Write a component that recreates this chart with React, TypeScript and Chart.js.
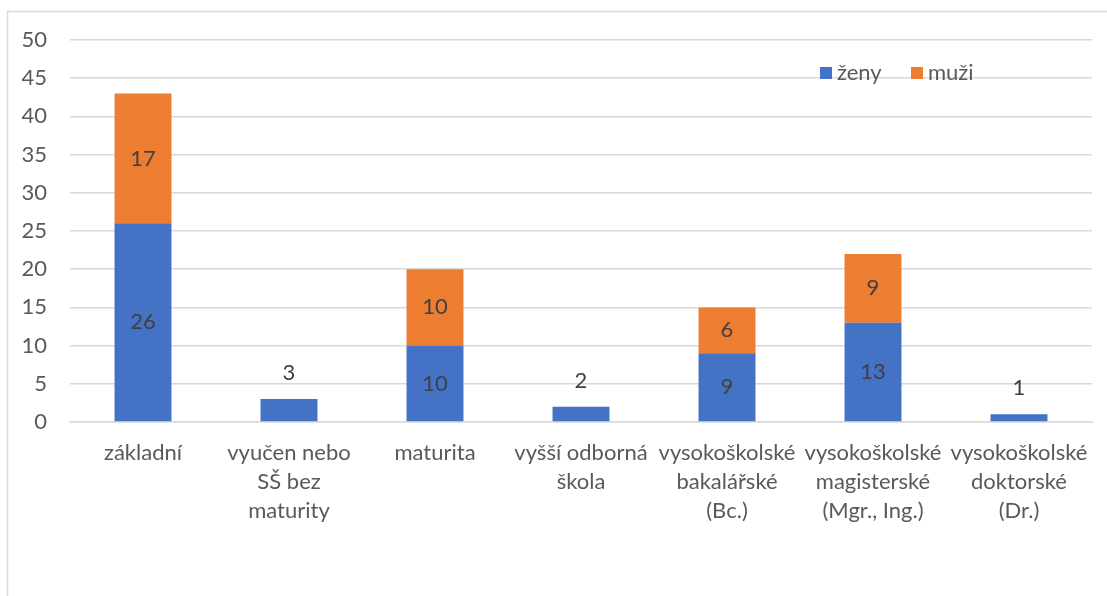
import React, { useEffect, useRef } from "react";
import { Chart, registerables } from "chart.js";

Chart.register(...registerables);

const categories: string[][] = [
  ["základní"],
  ["vyučen nebo", "SŠ bez", "maturity"],
  ["maturita"],
  ["vyšší odborná", "škola"],
  ["vysokoškolské", "bakalářské", "(Bc.)"],
  ["vysokoškolské", "magisterské", "(Mgr., Ing.)"],
  ["vysokoškolské", "doktorské", "(Dr.)"],
];
const zeny = [26, 3, 10, 2, 9, 13, 1];
const muzi = [17, 0, 10, 0, 6, 9, 0];
const seriesNames = ["ženy", "muži"];
const colors = ["#4472C4", "#ED7D31"];

const FONT = "Lato, 'Open Sans', sans-serif";
const TEXT = "#595959";

const decorPlugin = {
  id: "decor",
  beforeDraw(chart: any) {
    const ctx = chart.ctx;
    ctx.save();
    ctx.strokeStyle = "#d9d9d9";
    ctx.lineWidth = 1.5;
    ctx.beginPath();
    ctx.moveTo(7.5, chart.height + 5);
    ctx.lineTo(7.5, 11.5);
    ctx.lineTo(chart.width + 5, 11.5);
    ctx.stroke();
    ctx.restore();
  },
  afterDatasetsDraw(chart: any) {
    const ctx = chart.ctx;
    ctx.save();
    ctx.font = `22px ${FONT}`;
    ctx.fillStyle = "#404040";
    ctx.textAlign = "center";
    ctx.textBaseline = "middle";
    chart.data.datasets.forEach((ds: any, di: number) => {
      const meta = chart.getDatasetMeta(di);
      meta.data.forEach((el: any, i: number) => {
        const v = ds.data[i];
        if (!v) return;
        const h = Math.abs(el.base - el.y);
        const y = h < 30 ? el.y - 26 : (el.y + el.base) / 2;
        ctx.fillText(String(v), el.x, y);
      });
    });
    // legend
    const ly = 73;
    const items = [
      { x: 820, label: seriesNames[0], color: colors[0] },
      { x: 911, label: seriesNames[1], color: colors[1] },
    ];
    ctx.textAlign = "left";
    items.forEach((it) => {
      ctx.fillStyle = it.color;
      ctx.fillRect(it.x, ly - 6, 12, 12);
      ctx.fillStyle = TEXT;
      ctx.fillText(it.label, it.x + 17, ly);
    });
    ctx.restore();
  },
};

export default function App() {
  const ref = useRef<HTMLCanvasElement>(null);
  useEffect(() => {
    document.body.style.margin = "0";
    const chart = new Chart(ref.current!, {
      type: "bar",
      data: {
        labels: categories as any,
        datasets: [
          { label: seriesNames[0], data: zeny, backgroundColor: colors[0], barPercentage: 0.39, categoryPercentage: 1 },
          { label: seriesNames[1], data: muzi, backgroundColor: colors[1], barPercentage: 0.39, categoryPercentage: 1 },
        ],
      },
      options: {
        responsive: false,
        animation: false,
        layout: { padding: { top: 40, right: 15, left: 0, bottom: 0 } },
        plugins: { legend: { display: false }, tooltip: { enabled: false } },
        scales: {
          x: {
            stacked: true,
            grid: { display: false, drawTicks: false },
            border: { display: true, color: "#d9d9d9", width: 1.5 },
            ticks: {
              color: TEXT,
              font: { family: FONT, size: 22, lineHeight: 1.32 },
              padding: 16,
              maxRotation: 0,
              autoSkip: false,
            },
            afterFit(scale: any) {
              scale.height = 174;
            },
          },
          y: {
            stacked: true,
            min: 0,
            max: 50,
            ticks: { stepSize: 5, color: TEXT, font: { family: FONT, size: 22 }, padding: 23 },
            grid: { color: "#d9d9d9", lineWidth: 1.5, drawTicks: false },
            border: { display: false },
            afterFit(scale: any) {
              scale.width = 70;
            },
          },
        },
      },
      plugins: [decorPlugin],
    });
    return () => chart.destroy();
  }, []);
  return <canvas ref={ref} width={1107} height={596} style={{ display: "block" }} />;
}
